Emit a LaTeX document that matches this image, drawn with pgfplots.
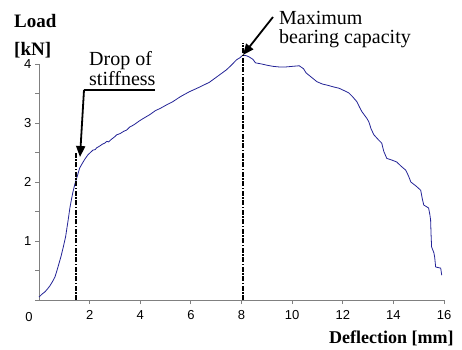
\documentclass[border=0pt]{standalone}
\usepackage{pgfplots}
\pgfplotsset{compat=1.18}
\usepackage{fontspec}
\setmainfont{Liberation Serif}
\newfontfamily\arial{Liberation Sans}
\usetikzlibrary{arrows.meta}
\definecolor{curve}{RGB}{35,35,150}
\definecolor{axgray}{RGB}{128,128,128}
\begin{document}
\begin{tikzpicture}[x=1pt,y=1pt]
\useasboundingbox (0,0) rectangle (462,-349);
\begin{axis}[
  at={(39pt,-300pt)}, anchor=south west,
  scale only axis, width=405pt, height=236pt,
  xmin=0, xmax=16, ymin=0, ymax=4,
  axis x line=bottom, axis y line=left,
  axis line style={-, axgray, line width=1pt},
  xtick={2,4,...,16},
  ytick={1,2,3,4},
  minor ytick={0,0.5,1.5,2.5,3.5},
  tick align=outside,
  major tick length=4pt, minor tick length=4pt,
  every tick/.style={axgray, line width=0.8pt},
  tick label style={font=\arial\fontsize{13}{13}\selectfont},
  /pgf/number format/assume math mode=true,
  xticklabel style={yshift=-3pt},
  clip=false,
]
\addplot[curve, line width=0.8pt] coordinates {
(0,0.05) (0.12,0.10) (0.24,0.14) (0.34,0.19) (0.43,0.24) (0.53,0.31) (0.63,0.39) (0.71,0.50)
(0.79,0.62) (0.87,0.74) (0.95,0.88) (1.05,1.07) (1.15,1.35) (1.22,1.56) (1.28,1.70)
(1.34,1.83) (1.42,1.97) (1.5,2.08) (1.56,2.17) (1.61,2.24) (1.69,2.30) (1.80,2.38)
(1.93,2.46) (2.03,2.50) (2.13,2.54) (2.22,2.55) (2.28,2.58) (2.40,2.61) (2.5,2.64)
(2.60,2.66) (2.68,2.69) (2.75,2.68) (2.85,2.72) (3.0,2.77) (3.07,2.80) (3.2,2.82)
(3.35,2.86) (3.46,2.88) (3.58,2.93) (3.75,2.97) (3.98,3.04) (4.17,3.09) (4.37,3.14)
(4.6,3.21) (4.8,3.25) (5.05,3.31) (5.28,3.36) (5.6,3.45) (5.94,3.53) (6.3,3.60)
(6.73,3.69) (7.05,3.79) (7.4,3.90) (7.6,3.98) (7.8,4.07) (7.95,4.11) (8.05,4.15)
(8.2,4.14) (8.3,4.12) (8.45,4.08) (8.55,4.02) (8.8,4.00) (9.0,3.98) (9.25,3.96)
(9.49,3.95) (9.75,3.95) (10.0,3.96) (10.28,3.97) (10.45,3.92) (10.55,3.85)
(10.75,3.78) (10.98,3.70) (11.2,3.66) (11.4,3.64) (11.65,3.61) (11.85,3.59)
(12.05,3.55) (12.24,3.51) (12.4,3.44) (12.56,3.36) (12.66,3.27) (12.76,3.19)
(12.95,3.08) (13.03,3.02) (13.12,2.90) (13.23,2.80) (13.4,2.72) (13.54,2.66)
(13.62,2.52) (13.74,2.40) (13.95,2.37) (14.13,2.34) (14.3,2.27) (14.49,2.20)
(14.6,2.10) (14.69,2.00) (14.9,1.93) (15.08,1.86) (15.14,1.72) (15.2,1.61)
(15.39,1.56) (15.44,1.45) (15.47,1.36) (15.49,1.10) (15.51,0.90) (15.6,0.80)
(15.63,0.73) (15.67,0.56) (15.87,0.54) (15.91,0.42)
};
\addplot[black, line width=1.6pt, dash pattern=on 5pt off 1.5pt on 1.5pt off 1.5pt]
  coordinates {(1.45,0) (1.45,2.51)};
\addplot[black, line width=1.6pt, dash pattern=on 5pt off 1.5pt on 1.5pt off 1.5pt]
  coordinates {(8.05,0) (8.05,4.36)};
\end{axis}
% annotations
\draw[black, line width=1.8pt] (155,-90) -- (84,-90);
\draw[black, line width=1.8pt, -{Triangle[width=9pt,length=11pt]}] (84,-90) -- (80,-157);
\draw[black, line width=1.8pt, -{Triangle[width=9pt,length=11pt]}] (273,-17) -- (243,-55);
\node[anchor=north west, inner sep=0pt, align=left, font=\fontsize{20}{16.5}\selectfont] at (89,-51.5) {Drop of\\stiffness};
\node[anchor=north west, inner sep=0pt, align=left, font=\fontsize{20}{19}\selectfont] at (279,-11.5) {Maximum\\bearing capacity};
\node[anchor=north west, inner sep=0pt, align=left, font=\bfseries\fontsize{19}{28}\selectfont] at (14,-14) {Load\\{}[kN]};
\node[anchor=base west, inner sep=0pt, font=\bfseries\fontsize{18}{18}\selectfont] at (329,-343) {Deflection [mm]};
\node[anchor=center, inner sep=0pt, font=\arial\fontsize{13}{13}\selectfont] at (29,-317) {0};
\end{tikzpicture}
\end{document}
